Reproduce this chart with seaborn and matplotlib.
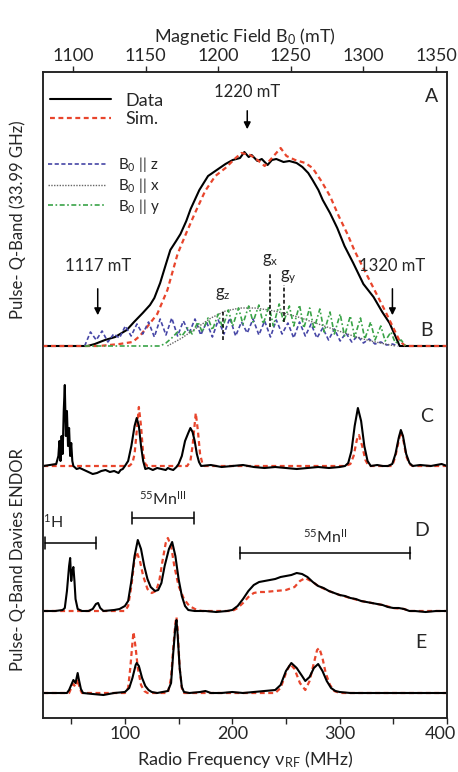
import matplotlib
matplotlib.use("Agg")
import matplotlib.pyplot as plt
import matplotlib.transforms as mtransforms
import seaborn as sns

# ---- EPR (field swept), amplitudes above baseline ----
epr_field = [1079, 1110, 1115, 1122, 1129, 1137, 1142, 1148, 1153, 1156, 1160, 1164, 1167, 1171,
             1174, 1178, 1181, 1187, 1193, 1199, 1205, 1210, 1215, 1218, 1221, 1223, 1227, 1230,
             1234, 1237, 1240, 1245, 1249, 1254, 1258, 1262, 1265, 1269, 1272, 1277, 1282, 1287,
             1293, 1300, 1307, 1313, 1318, 1322, 1325, 1358]
epr_data = [0, 0, 2, 6, 9, 16, 24, 33, 41, 48, 63, 82, 96, 105,
            112, 125, 137, 156, 170, 176, 182, 186, 188, 194, 189, 191, 185, 187,
            181, 186, 187, 184, 185, 183, 179, 173, 166, 156, 146, 133, 118, 100,
            83, 62, 49, 34, 23, 10, 0, 0]

sim_field = [1079, 1118, 1132, 1141, 1146, 1151, 1158, 1165, 1172, 1178, 1184, 1191, 1198, 1205,
             1212, 1216, 1222, 1227, 1232, 1237, 1243, 1247, 1253, 1260, 1265, 1271, 1277, 1283,
             1289, 1294, 1301, 1308, 1315, 1320, 1325, 1329, 1358]
epr_sim = [0, 0, 2, 4, 10, 19, 32, 56, 92, 113, 133, 155, 170, 178,
           188, 193, 191, 186, 180, 188, 198, 190, 186, 183, 178, 165, 150, 130,
           112, 95, 75, 55, 35, 20, 5, 0, 0]

z_field = [1108, 1112, 1116, 1120, 1124, 1128, 1132, 1136, 1140, 1144, 1148, 1152, 1156, 1160,
           1164, 1168, 1172, 1176, 1180, 1184, 1188, 1192, 1196, 1200, 1204, 1208, 1212, 1216,
           1220, 1224, 1228, 1232, 1236, 1240, 1244, 1248, 1252, 1256, 1260, 1264, 1268, 1272,
           1276, 1280, 1284, 1288, 1292, 1296, 1300, 1304, 1308, 1312, 1316, 1320, 1324]
comp_z = [0, 14, 6, 15, 4, 12, 8, 20, 10, 22, 12, 24, 9, 27,
          11, 28, 10, 25, 13, 27, 11, 24, 9, 26, 12, 28, 10, 24,
          13, 27, 11, 25, 9, 26, 12, 23, 8, 24, 10, 22, 8, 18,
          6, 17, 5, 13, 4, 10, 3, 7, 2, 4, 1, 2, 0]

x_field = [1165, 1175, 1185, 1195, 1205, 1215, 1225, 1235, 1245, 1255, 1265, 1275, 1285, 1295,
           1305, 1315, 1322]
comp_x = [0, 8, 18, 28, 35, 38, 38, 36, 33, 29, 24, 19, 14, 9, 5, 2, 0]

y_field = [1108, 1160, 1164, 1168, 1172, 1175, 1179, 1182, 1186, 1189, 1193, 1196, 1200, 1203,
           1207, 1210, 1214, 1217, 1221, 1224, 1228, 1231, 1235, 1238, 1242, 1245, 1249, 1252,
           1256, 1259, 1263, 1266, 1270, 1273, 1277, 1280, 1284, 1287, 1291, 1294, 1298, 1301,
           1305, 1308, 1312, 1315, 1319, 1322, 1326, 1329]
comp_y = [0, 0, 3, 8, 14, 10, 18, 12, 24, 14, 28, 16, 32, 18,
          36, 20, 38, 22, 40, 24, 41, 22, 40, 20, 42, 24, 40, 20,
          41, 18, 38, 17, 37, 14, 34, 12, 32, 10, 30, 9, 28, 7,
          24, 6, 20, 5, 14, 3, 6, 0]

# ---- ENDOR (RF swept) ----
c_rf = [24, 30, 36, 38, 39, 40, 41, 42, 43, 44, 45, 46, 47, 48, 49, 50, 51, 52, 55, 58, 62, 66,
        70, 74, 78, 82, 86, 90, 94, 96, 98, 100, 103, 106, 109, 111, 113, 115, 117, 119, 122,
        126, 130, 134, 138, 140, 142, 145, 148, 150, 153, 156, 159, 161, 163, 165, 167, 169, 171,
        180, 190, 200, 210, 220, 230, 240, 250, 260, 270, 280, 290, 300, 305, 308, 311, 314, 317,
        320, 323, 326, 329, 335, 340, 345, 349, 352, 355, 357, 359, 362, 365, 368, 375, 385, 395, 400]
c_data = [0, 1, 2, 10, 25, 5, 30, 12, 55, 81, 30, 55, 20, 38, 10, 23, 5, 0, -3, -2, -4, -6,
          -8, -7, -5, -4, -6, -5, -7, -4, -3, 0, 5, 20, 40, 48, 40, 20, 5, -3, -2,
          -4, -2, -3, -4, -2, -3, -4, -1, 2, 10, 25, 33, 38, 34, 25, 12, 4, 0,
          1, -1, 0, 1, -1, -2, -1, -2, -3, -2, -1, -2, -1, 0, 3, 15, 40, 58,
          45, 20, 5, 0, 1, 0, 0, 2, 12, 28, 36, 30, 12, 3, 0, 1, 0, 2, 0]
c_sim_rf = [24, 104, 107, 109, 111, 113, 115, 117, 119, 121, 158, 161, 163, 166, 168, 170, 172,
            174, 305, 310, 313, 316, 318, 321, 324, 327, 349, 352, 355, 357, 359, 362, 365, 368, 400]
c_sim = [0, 0, 3, 12, 35, 59, 40, 12, 2, 0, 0, 5, 20, 53, 35, 12, 3,
         0, 0, 2, 10, 26, 31, 20, 6, 0, 0, 10, 25, 35, 28, 10, 2, 0, 0]

d_rf = [24, 35, 42, 44, 46, 48, 49, 50, 51, 52, 53, 54, 56, 60, 66, 70, 73, 75, 77, 80, 90, 95,
        100, 103, 106, 109, 112, 115, 118, 121, 124, 128, 131, 134, 137, 141, 144, 147, 150, 153,
        156, 159, 165, 175, 185, 195, 200, 205, 210, 215, 220, 225, 230, 235, 240, 245, 250, 255,
        260, 265, 270, 275, 280, 285, 290, 295, 300, 305, 310, 315, 320, 325, 330, 335, 340, 345,
        350, 355, 360, 365, 370, 380, 390, 400]
d_data = [0, 0, 1, 3, 20, 45, 53, 30, 40, 44, 30, 12, 2, 0, 0, 2, 7, 8, 3, 0, 1, 2,
          5, 10, 30, 55, 71, 62, 45, 32, 24, 20, 21, 28, 45, 62, 69, 55, 32, 15,
          5, 1, 0, 0, -1, 0, 1, 5, 12, 20, 26, 29, 30, 31, 32, 34, 35, 36,
          38, 37, 34, 29, 25, 23, 20, 18, 16, 15, 13, 12, 10, 9, 8, 7, 6, 4,
          3, 3, 2, 0, 0, -1, 0, 0]
d_sim_rf = [24, 100, 103, 106, 109, 111, 114, 117, 121, 125, 129, 132, 135, 138, 140, 143, 146,
            150, 155, 160, 167, 172, 200, 205, 210, 215, 220, 225, 230, 240, 250, 258, 263, 268,
            275, 280, 290, 300, 310, 320, 330, 340, 350, 360, 365, 400]
d_sim = [0, 0, 5, 25, 52, 59, 50, 35, 22, 18, 20, 30, 50, 68, 73, 65, 45,
         25, 12, 5, 1, 0, 0, 3, 8, 14, 18, 19, 19, 20, 21, 24, 30, 33,
         29, 25, 20, 16, 13, 10, 8, 6, 3, 2, 0, 0]

e_rf = [24, 40, 46, 48, 50, 52, 54, 56, 57, 59, 61, 70, 80, 90, 100, 104, 107, 110, 111, 113, 116,
        119, 122, 125, 130, 140, 143, 145, 147, 148, 149, 151, 153, 155, 160, 170, 175, 180, 190,
        200, 210, 220, 230, 240, 245, 250, 255, 260, 265, 268, 272, 276, 280, 284, 288, 292, 296,
        300, 310, 320, 340, 360, 380, 400]
e_data = [0, 0, 0, 3, 8, 13, 10, 20, 14, 4, 0, -1, -2, 0, 1, 5, 15, 28, 30, 27, 15,
          7, 3, 1, 0, 2, 10, 40, 66, 73, 60, 25, 6, 1, 0, 1, 2, 0, 0,
          1, 0, 1, 2, 3, 8, 22, 30, 25, 17, 12, 16, 25, 29, 22, 12, 5, 2,
          1, 0, 0, 0, 0, 0, 0]
e_sim_rf = [24, 48, 50, 52, 54, 56, 58, 60, 100, 103, 105, 107, 108, 110, 112, 115, 118, 121,
            140, 143, 145, 147, 148, 149, 151, 153, 155, 240, 245, 250, 254, 258, 263, 268, 272,
            276, 279, 281, 284, 287, 291, 295, 300, 400]
e_sim = [0, 0, 5, 9, 6, 14, 4, 0, 0, 5, 25, 50, 61, 45, 25, 8, 2, 0,
         0, 15, 45, 70, 76, 65, 25, 5, 0, 0, 5, 20, 29, 24, 10, 3, 12,
         30, 43, 45, 35, 20, 8, 2, 0, 0]

# baselines of the stacked traces (vertical offsets)
base_epr, base_c, base_d, base_e = 372, 252, 107, 25

sns.set_style("ticks")
plt.rcParams['font.family'] = ['Lato', 'DejaVu Sans']
plt.rcParams['mathtext.default'] = 'regular'

fig = plt.figure(figsize=(4.58, 7.72), dpi=100)
ax = fig.add_axes([43 / 458, 54 / 772, 404 / 458, 646 / 772])
ax2 = ax.twiny()

red = '#e8452c'
dash = (0, (2.2, 1.6))

def trace(a, x, y, base, **kw):
    sns.lineplot(x=x, y=[v + base for v in y], ax=a, estimator=None, sort=False, **kw)

# EPR spectra (top axis)
trace(ax2, epr_field, epr_data, base_epr, color='black', lw=1.5, label='Data')
trace(ax2, sim_field, epr_sim, base_epr, color=red, lw=1.6, linestyle=dash, label='Sim.')
trace(ax2, z_field, comp_z, base_epr, color='#4646a6', lw=1.2, linestyle=(0, (2.5, 1.5)),
      label='B$_0$ || z')
trace(ax2, x_field, comp_x, base_epr, color='#666666', lw=1.0, linestyle=(0, (1, 1)),
      label='B$_0$ || x')
trace(ax2, y_field, comp_y, base_epr, color='#3aa348', lw=1.2, linestyle=(0, (3, 1.5, 1, 1.5)),
      label='B$_0$ || y')

# ENDOR spectra (bottom axis)
for xs, ys, xs_sim, ys_sim, base in [(c_rf, c_data, c_sim_rf, c_sim, base_c),
                                     (d_rf, d_data, d_sim_rf, d_sim, base_d),
                                     (e_rf, e_data, e_sim_rf, e_sim, base_e)]:
    trace(ax, xs_sim, ys_sim, base, color=red, lw=1.6, linestyle=dash)
    trace(ax, xs, ys, base, color='black', lw=1.5)

ax.set_xlim(23.7, 400)
ax2.set_xlim(1079.3, 1357.6)
ax.set_ylim(0, 646)
ax.set_yticks([])
ax2.set_yticks([])

ax.set_xticks(list(range(50, 401, 50)))
ax.set_xticklabels(['' if t % 100 else str(t) for t in range(50, 401, 50)])
ax2.set_xticks(list(range(1100, 1351, 50)))
ax.tick_params(axis='x', direction='out', length=4, width=1, labelsize=13, pad=2)
ax2.tick_params(axis='x', direction='out', length=4, width=1, labelsize=13, pad=2)
# nudge the last bottom label so it stays inside the figure
last = ax.get_xticklabels()[-1]
last.set_transform(last.get_transform() +
                   mtransforms.ScaledTranslation(-7 / 100, 0, fig.dpi_scale_trans))
for a in (ax, ax2):
    for s in a.spines.values():
        s.set_linewidth(1.1)
        s.set_color('#222222')

ax.set_xlabel('Radio Frequency ν$_{RF}$ (MHz)', fontsize=13, labelpad=5)
ax2.set_xlabel('Magnetic Field B$_0$ (mT)', fontsize=13, labelpad=4)
fig.text(18 / 458, 1 - 220 / 772, 'Pulse- Q-Band (33.99 GHz)', rotation=90,
         ha='center', va='center', fontsize=12)
fig.text(18 / 458, 1 - 560 / 772, 'Pulse- Q-Band Davies ENDOR', rotation=90,
         ha='center', va='center', fontsize=12)

# legends
h, l = ax2.get_legend_handles_labels()
leg1 = ax2.legend(h[:2], l[:2], loc='upper left', bbox_to_anchor=(-0.01, 0.985), frameon=False,
                  fontsize=13, handlelength=3.4, labelspacing=0.15, borderaxespad=0.2)
ax2.add_artist(leg1)
ax2.legend(h[2:], l[2:], loc='upper left', bbox_to_anchor=(-0.01, 0.885), frameon=False,
           fontsize=11, handlelength=3.8, labelspacing=0.1, borderaxespad=0.2)
if ax.get_legend() is not None:
    ax.get_legend().remove()

# field markers
arrow = dict(arrowstyle='-|>', color='black', lw=1.1, mutation_scale=10)
for f, label, htext, htail, htip in [(1117, '1117 mT', 452, 432, 400),
                                     (1320, '1320 mT', 452, 432, 400),
                                     (1220, '1220 mT', 626, 610, 586)]:
    ax2.annotate('', xy=(f, htip), xytext=(f, htail), arrowprops=arrow)
    ax2.text(f, htext, label, ha='center', va='center', fontsize=12)

for f, lo, hi, label, hl in [(1203, 378, 408, 'g$_z$', 424),
                             (1236, 391, 445, 'g$_x$', 458),
                             (1245, 396, 433, 'g$_y$', 441)]:
    ax2.plot([f, f], [lo, hi], color='black', lw=1.1, linestyle=(0, (2.5, 1.5)))
    ax2.text(f + (3 if label == 'g$_y$' else 0), hl, label, ha='center', va='center', fontsize=12)

# ENDOR brackets
brk = dict(arrowstyle='|-|', color='black', lw=1.1, mutation_scale=4, shrinkA=0, shrinkB=0)
for lo, hi, hb, label, xt, ht in [(25.6, 73, 175, '$^{1}$H', 33, 196),
                                  (107, 164, 200, '$^{55}$Mn$^{III}$', 135, 219),
                                  (207, 366, 165, '$^{55}$Mn$^{II}$', 287, 181)]:
    ax.annotate('', xy=(lo, hb), xytext=(hi, hb), arrowprops=brk)
    ax.text(xt, ht, label, ha='center', va='center', fontsize=11.5)

for letter, rf, hh in [('A', 385.5, 621), ('B', 381, 388), ('C', 381, 301),
                       ('D', 376, 188), ('E', 376, 75)]:
    ax.text(rf, hh, letter, ha='center', va='center', fontsize=14)

fig.savefig('out.png', dpi=100)
